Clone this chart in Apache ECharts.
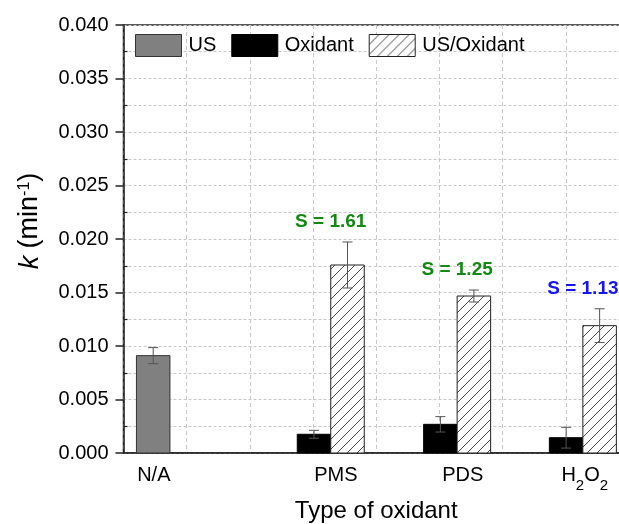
<!DOCTYPE html>
<html><head><meta charset="utf-8">
<script src="https://cdn.jsdelivr.net/npm/echarts@6/dist/echarts.min.js"></script>
<style>html,body{margin:0;padding:0;background:#fff}#c{width:619px;height:524px}</style>
</head><body><div id="c"></div>
<script>
// ---- data ----
const categories = ['N/A', 'PMS', 'PDS', 'H2O2'];
const groupX = [0.47, 3.28, 5.28, 7.27];      // group centres on the numeric x axis
const tickX = [0.48, 3.36, 5.37, 7.30];       // category label positions
const usVals = [0.0091, null, null, null];
const usErr = [0.00075, null, null, null];
const oxVals = [null, 0.00175, 0.00268, 0.00143];
const oxErr = [null, 0.00037, 0.00072, 0.00097];
const usOxVals = [null, 0.01757, 0.01467, 0.0119];
const usOxErr = [null, 0.00215, 0.00056, 0.00158];
const synergy = [null, 'S = 1.61', 'S = 1.25', 'S = 1.13'];
const yMin = 0, yMax = 0.04, yStep = 0.005;
const xMin = 0, xMax = 8, xStep = 1;

// ---- styles ----
const FONT = 'Liberation Sans, Arial, Helvetica, sans-serif';
const BAR_W = 33.5;
const synergyColors = [null, '#128a12', '#128a12', '#1414f5'];

const P = 10;
const cv = document.createElement('canvas'); cv.width = P; cv.height = P;
const g = cv.getContext('2d');
g.fillStyle = '#fff'; g.fillRect(0, 0, P, P);
g.strokeStyle = '#333'; g.lineWidth = 0.9;
g.beginPath();
g.moveTo(0, P); g.lineTo(P, 0);
g.moveTo(-1, 1); g.lineTo(1, -1);
g.moveTo(P - 1, P + 1); g.lineTo(P + 1, P - 1);
g.stroke();
const hatch = { image: cv, repeat: 'repeat' };

function barSeries(name, vals, errs, side, fill, stroke) {
  const data = [];
  vals.forEach((v, i) => { if (v != null) data.push([groupX[i], v, errs[i]]); });
  return {
    type: 'custom', name, data,
    itemStyle: { color: fill, borderColor: stroke, borderWidth: 1 },
    encode: { x: 0, y: 1 },
    z: 3,
    renderItem(params, api) {
      const x = api.value(0), y = api.value(1), e = api.value(2);
      const top = api.coord([x, y]);
      const base = api.coord([x, 0]);
      const hi = api.coord([x, y + e]);
      const lo = api.coord([x, y - e]);
      const cx = top[0] + side * BAR_W / 2;
      const left = cx - BAR_W / 2;
      const es = { stroke: '#555', lineWidth: 1 };
      return {
        type: 'group',
        children: [
          { type: 'rect', shape: { x: left, y: top[1], width: BAR_W, height: base[1] - top[1] },
            style: { fill: fill, stroke: stroke, lineWidth: 1 } },
          { type: 'line', shape: { x1: cx, y1: hi[1], x2: cx, y2: lo[1] }, style: es },
          { type: 'line', shape: { x1: cx - 5, y1: hi[1], x2: cx + 5, y2: hi[1] }, style: es },
          { type: 'line', shape: { x1: cx - 5, y1: lo[1], x2: cx + 5, y2: lo[1] }, style: es }
        ]
      };
    }
  };
}

const labelData = [];
synergy.forEach((s, i) => { if (s) labelData.push([groupX[i], usOxVals[i] + usOxErr[i], i]); });

const gridLine = { color: '#c8c8c8', width: 1, type: [3, 2] };

const option = {
  animation: false,
  backgroundColor: '#fff',
  grid: { left: 123.5, width: 505.5, top: 25, bottom: 71, outerBoundsMode: 'none', containLabel: false,
          show: true, borderColor: '#222', borderWidth: 1.5 },
  legend: {
    left: 135, top: 34, padding: 0, icon: 'rect',
    itemWidth: 46, itemHeight: 22, itemGap: 15,
    textStyle: { fontSize: 20, color: '#000', fontFamily: FONT, padding: [0, 0, 0, 2] },
    data: [
      { name: 'US', itemStyle: { color: '#808080', borderColor: '#333', borderWidth: 1 } },
      { name: 'Oxidant', itemStyle: { color: '#000', borderColor: '#000', borderWidth: 1 } },
      { name: 'US/Oxidant', itemStyle: { color: hatch, borderColor: '#222', borderWidth: 1 } }
    ]
  },
  xAxis: {
    type: 'value', min: xMin, max: xMax, interval: xStep,
    axisLine: { show: true, lineStyle: { color: '#222', width: 1.5 } },
    axisTick: { show: false },
    splitLine: { show: true, lineStyle: { color: '#c8c8c8', width: 1, type: [4, 3] } },
    axisLabel: {
      customValues: tickX, margin: 12, color: '#000', fontSize: 20, fontFamily: FONT,
      formatter: v => {
        const i = tickX.findIndex(t => Math.abs(t - v) < 1e-6);
        const c = categories[i];
        if (c === 'H2O2') return '{n|H}{s|2}{n|O}{s|2}';
        return '{n|' + c + '}';
      },
      rich: {
        n: { fontSize: 20, lineHeight: 20, verticalAlign: 'top', fontFamily: FONT, color: '#000' },
        s: { fontSize: 15, lineHeight: 28, verticalAlign: 'bottom', fontFamily: FONT, color: '#000' }
      }
    },
    name: 'Type of oxidant', nameLocation: 'middle', nameGap: 46,
    nameTextStyle: { fontSize: 24, color: '#000', fontFamily: FONT }
  },
  yAxis: [{
    type: 'value', min: yMin, max: yMax, interval: yStep,
    axisLine: { show: true, lineStyle: { color: '#222', width: 1.5 } },
    axisTick: { show: true, length: 8, lineStyle: { color: '#222', width: 1.5 } },
    minorTick: { show: false, splitNumber: 2 },
    splitLine: { show: true, lineStyle: gridLine },
    minorSplitLine: { show: true, lineStyle: gridLine },
    axisLabel: { fontSize: 20, color: '#000', margin: 15, fontFamily: FONT, formatter: v => v.toFixed(3) },
    name: '{i|k} {n|(min}{sup|-1}{n|)}', nameLocation: 'middle', nameGap: 80,
    nameTextStyle: {
      fontFamily: FONT, color: '#000', padding: [0, 0, 0, 36],
      rich: {
        i: { fontSize: 27, fontStyle: 'italic', lineHeight: 27, verticalAlign: 'bottom', padding: [7, 4, 0, 0], fontFamily: FONT, color: '#000' },
        n: { fontSize: 27, lineHeight: 27, verticalAlign: 'bottom', padding: [7, 0, 0, 0], fontFamily: FONT, color: '#000' },
        sup: { fontSize: 16, lineHeight: 16, verticalAlign: 'top', fontFamily: FONT, color: '#000' }
      }
    }
  }, {
    type: 'value', min: yMin, max: yMax, interval: yStep, position: 'left',
    axisLine: { show: false }, axisLabel: { show: false }, splitLine: { show: false },
    axisTick: { show: false, inside: true },
    minorTick: { show: true, splitNumber: 2, length: 4, lineStyle: { color: '#222', width: 1.2 } }
  }],
  series: [
    barSeries('US', usVals, usErr, 0, '#808080', '#333'),
    barSeries('Oxidant', oxVals, oxErr, -1, '#000', '#000'),
    barSeries('US/Oxidant', usOxVals, usOxErr, 1, hatch, '#222'),
    {
      type: 'custom', name: 'synergy', data: labelData, encode: { x: 0, y: 1 }, z: 4, clip: false,
      renderItem(params, api) {
        const p = api.coord([api.value(0), api.value(1)]);
        const i = api.value(2);
        return { type: 'text', x: p[0], y: p[1] - 20,
          style: { text: synergy[i], fill: synergyColors[i], font: 'bold 19px ' + FONT, align: 'center', verticalAlign: 'middle' } };
      }
    }
  ]
};
echarts.init(document.getElementById('c')).setOption(option);
</script></body></html>
